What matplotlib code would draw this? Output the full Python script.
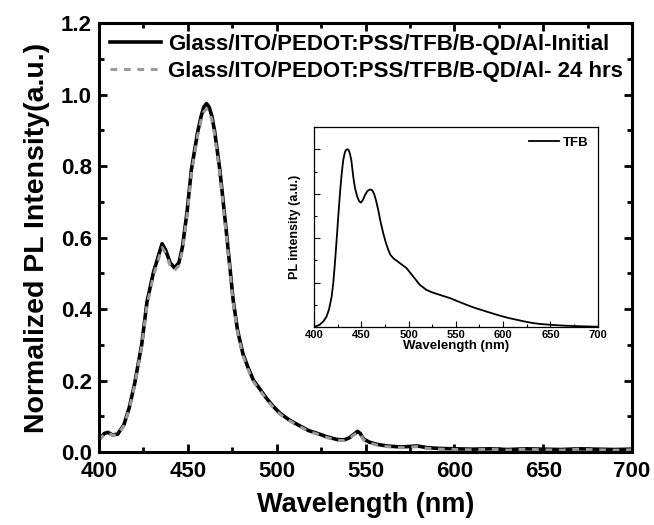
import numpy as np
import matplotlib.pyplot as plt
from matplotlib.ticker import MultipleLocator

plt.rcParams['font.family'] = ['Liberation Sans', 'DejaVu Sans']

# main spectra (normalized PL)
wavelength = [400, 403, 405, 407.5, 410.5, 414, 417, 420, 424, 427, 430.5, 433.5,
              435.5, 437.5, 440, 442.5, 445, 447, 449.5, 452, 455.5, 457.5, 459,
              460.5, 462, 463.5, 465, 468, 472, 475.5, 478, 481, 484, 487, 490, 494,
              498, 502, 507, 512, 518, 523, 528, 534, 538, 541, 543.5, 545.5, 547,
              549, 552, 556, 562, 570, 579, 585, 592, 600, 610, 620, 630, 640, 650,
              660, 670, 680, 690, 700]
pl_initial = [0.035, 0.052, 0.055, 0.048, 0.05, 0.076, 0.124, 0.19, 0.3, 0.42, 0.5,
              0.55, 0.583, 0.565, 0.53, 0.515, 0.53, 0.575, 0.67, 0.79, 0.895, 0.94,
              0.965, 0.975, 0.965, 0.94, 0.9, 0.79, 0.6, 0.425, 0.34, 0.275, 0.235,
              0.2, 0.18, 0.152, 0.128, 0.108, 0.09, 0.076, 0.06, 0.052, 0.043, 0.035,
              0.034, 0.04, 0.05, 0.058, 0.052, 0.036, 0.028, 0.022, 0.017, 0.014,
              0.017, 0.012, 0.01, 0.009, 0.008, 0.009, 0.007, 0.009, 0.008, 0.007,
              0.009, 0.008, 0.007, 0.008]
pl_24hrs = [0.033, 0.05, 0.053, 0.047, 0.049, 0.074, 0.12, 0.185, 0.295, 0.41, 0.49,
            0.54, 0.572, 0.556, 0.522, 0.508, 0.522, 0.565, 0.66, 0.78, 0.885, 0.93,
            0.952, 0.96, 0.952, 0.93, 0.89, 0.78, 0.59, 0.418, 0.335, 0.27, 0.23,
            0.196, 0.176, 0.149, 0.125, 0.105, 0.088, 0.074, 0.058, 0.05, 0.041,
            0.033, 0.032, 0.038, 0.048, 0.055, 0.05, 0.034, 0.026, 0.02, 0.015,
            0.012, 0.015, 0.01, 0.008, 0.007, 0.006, 0.008, 0.005, 0.008, 0.006,
            0.005, 0.008, 0.006, 0.005, 0.006]

# inset: TFB only
tfb_wl = [400, 406, 410, 413.4, 416, 418.7, 420.5, 422.2, 424, 425.7, 427.5, 429.3,
          431, 432.8, 434.2, 435.5, 436.8, 438, 439.5, 441.6, 443.5, 445.8, 447.8,
          449.7, 451.8, 453.9, 456.5, 459.2, 461.5, 463.5, 465.5, 468, 470.5,
          473.3, 476, 478.6, 481, 484, 487.5, 491, 498, 505, 512, 519, 524.5,
          529.7, 536, 543.8, 552, 561.4, 570, 579, 588, 596.7, 605, 614.3, 623,
          632, 640, 649.6, 658, 667, 680, 700]
tfb_pl = [0.0, 0.013, 0.032, 0.06, 0.1, 0.17, 0.25, 0.36, 0.49, 0.62, 0.75, 0.86,
          0.94, 0.985, 0.998, 1.0, 0.995, 0.976, 0.94, 0.845, 0.78, 0.733, 0.708,
          0.70, 0.715, 0.742, 0.765, 0.774, 0.77, 0.751, 0.715, 0.658, 0.59,
          0.527, 0.475, 0.434, 0.405, 0.387, 0.373, 0.359, 0.331, 0.284, 0.237,
          0.209, 0.196, 0.187, 0.176, 0.163, 0.145, 0.125, 0.108, 0.093, 0.078,
          0.064, 0.052, 0.041, 0.031, 0.022, 0.017, 0.013, 0.01, 0.0075, 0.005,
          0.002]

fig = plt.figure(figsize=(6.54, 5.25), dpi=100)
ax = fig.add_axes([0.1514, 0.139, 0.815, 0.817])

ax.plot(wavelength, pl_initial, color='black', lw=2.6,
        label='Glass/ITO/PEDOT:PSS/TFB/B-QD/Al-Initial')
ax.plot(wavelength, pl_24hrs, color='#999999', lw=2.2, ls=(0, (2.2, 2.2)),
        label='Glass/ITO/PEDOT:PSS/TFB/B-QD/Al- 24 hrs')

ax.set_xlim(400, 700)
ax.set_ylim(0, 1.2)
ax.xaxis.set_major_locator(MultipleLocator(50))
ax.xaxis.set_minor_locator(MultipleLocator(25))
ax.yaxis.set_major_locator(MultipleLocator(0.2))
ax.yaxis.set_minor_locator(MultipleLocator(0.1))
ax.tick_params(which='both', direction='in', top=True, right=True, width=2.0)
ax.tick_params(which='major', length=6, labelsize=16, pad=5)
ax.tick_params(axis='x', which='major', pad=6.5)
ax.tick_params(which='minor', length=3.5)
for lab in ax.get_xticklabels() + ax.get_yticklabels():
    lab.set_fontweight('bold')
for sp in ax.spines.values():
    sp.set_linewidth(2.2)

ax.set_xlabel('Wavelength (nm)', fontsize=19.5, fontweight='bold', labelpad=7)
ax.set_ylabel('Normalized PL Intensity(a.u.)', fontsize=20.5, fontweight='bold',
              labelpad=8)

leg = ax.legend(loc='upper left', frameon=False, prop={'weight': 'bold', 'size': 16},
                handlelength=2.3, handletextpad=0.3, labelspacing=0.25,
                borderaxespad=0.2, borderpad=0.3)

# inset
ins = fig.add_axes([0.480, 0.377, 0.434, 0.381])
ins.plot(tfb_wl, tfb_pl, color='black', lw=1.3, label='TFB')
ins.set_xlim(400, 700)
ins.set_ylim(0, 1.125)
ins.xaxis.set_major_locator(MultipleLocator(50))
ins.xaxis.set_minor_locator(MultipleLocator(25))
ins.yaxis.set_major_locator(MultipleLocator(0.25))
ins.yaxis.set_minor_locator(MultipleLocator(0.125))
ins.tick_params(which='both', direction='in', width=0.8)
ins.tick_params(which='major', length=4, labelsize=8, pad=2)
ins.tick_params(which='minor', length=2)
ins.tick_params(axis='y', labelleft=False)
for lab in ins.get_xticklabels():
    lab.set_fontweight('bold')
for sp in ins.spines.values():
    sp.set_linewidth(0.9)
ins.set_xlabel('Wavelength (nm)', fontsize=9.5, fontweight='bold', labelpad=0)
ins.set_ylabel('PL intensity (a.u.)', fontsize=9, fontweight='bold', labelpad=6)
ins.legend(loc='upper right', frameon=False, prop={'weight': 'bold', 'size': 9.5},
           handlelength=2.3, handletextpad=0.3, borderaxespad=0.3)

fig.savefig('out.png', dpi=100)
